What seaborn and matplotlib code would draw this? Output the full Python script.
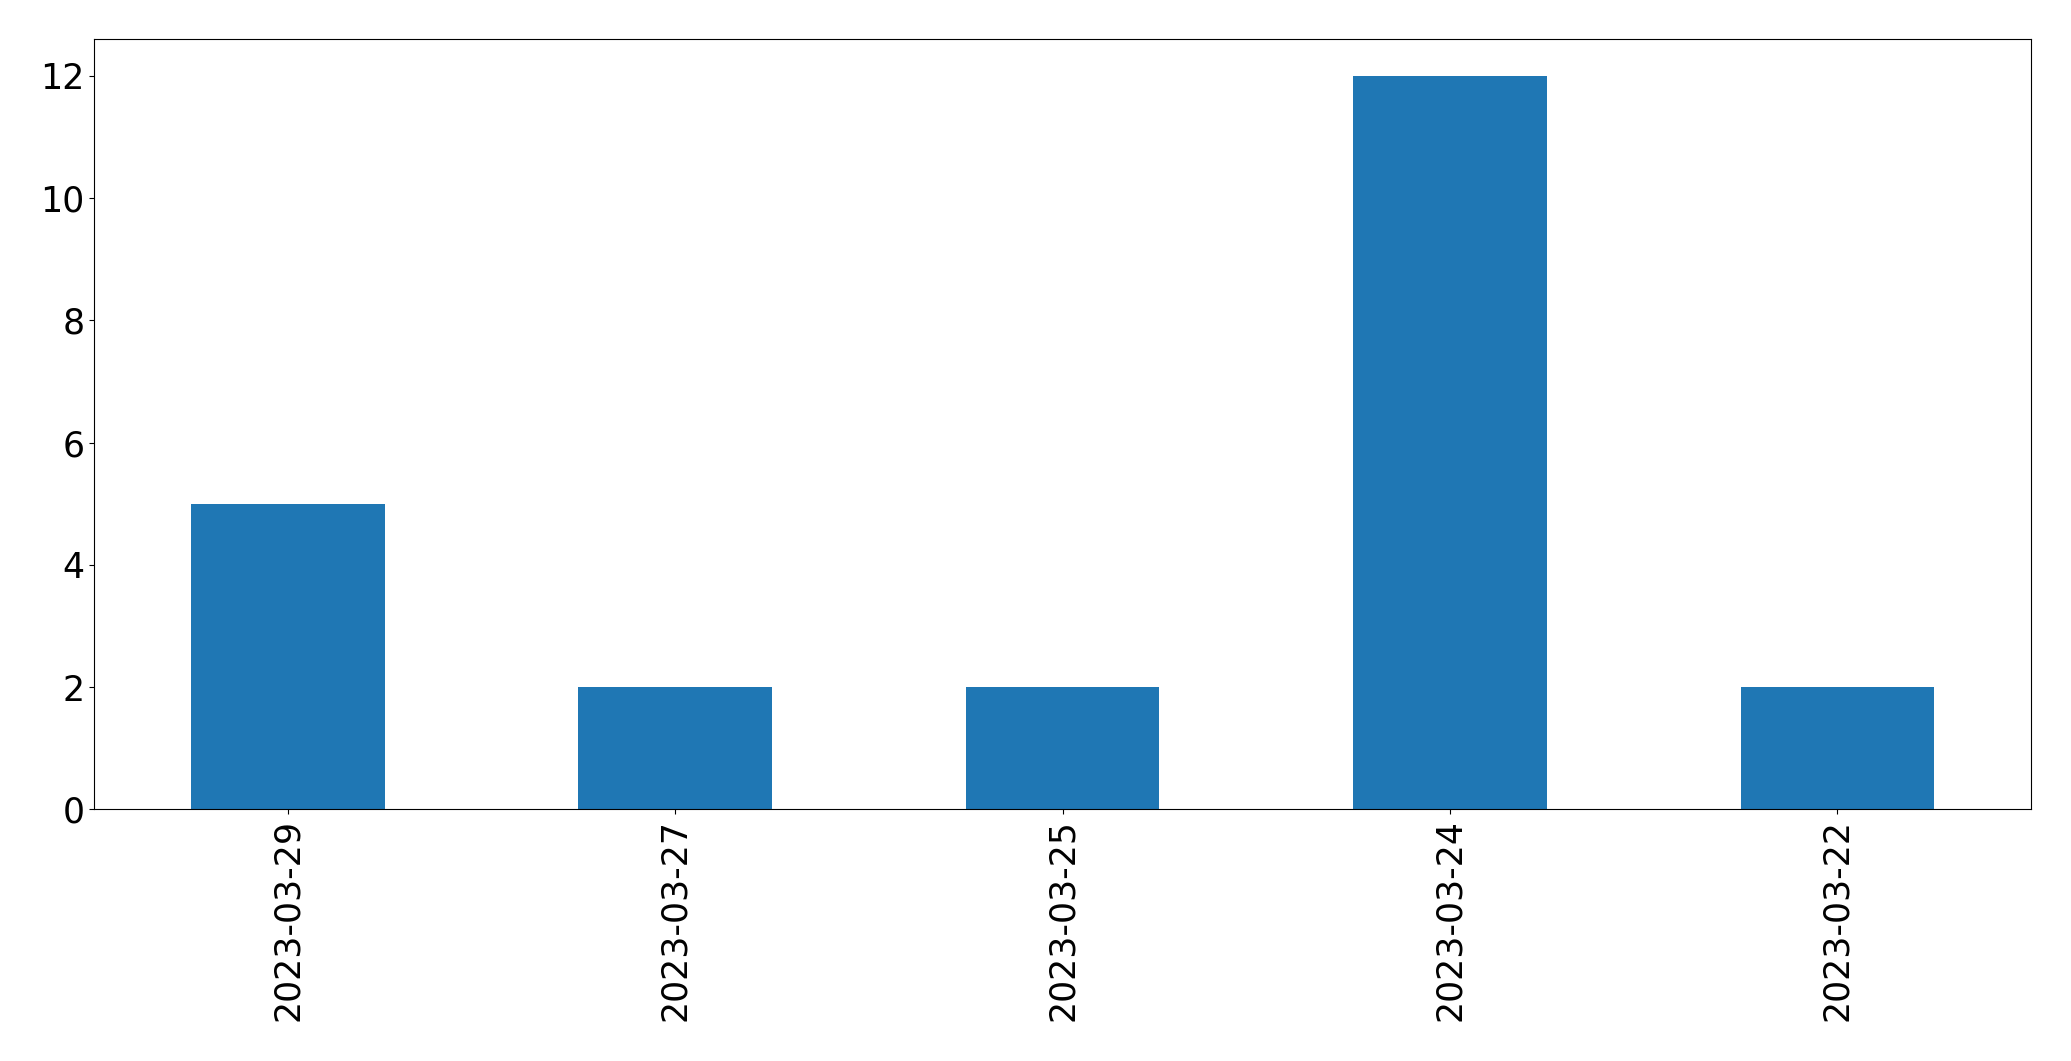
import matplotlib
matplotlib.use("Agg")
import matplotlib.pyplot as plt
import seaborn as sns
import pandas as pd

dates = ["2023-03-29", "2023-03-27", "2023-03-25", "2023-03-24", "2023-03-22"]
counts = [5, 2, 2, 12, 2]

df = pd.DataFrame({"date": dates, "count": counts})

fig, ax = plt.subplots(figsize=(20.71, 10.61), dpi=100)
sns.barplot(data=df, x="date", y="count", order=dates, color="#1f77b4",
            saturation=1, width=0.5, linewidth=0, ax=ax)
ax.set_xlim(-0.5, len(dates) - 0.5)
ax.set_ylim(0, 12.6)
ax.set_xlabel("")
ax.set_ylabel("")
ax.tick_params(axis="both", labelsize=25)
plt.setp(ax.get_xticklabels(), rotation=90)
fig.subplots_adjust(left=0.0455, right=0.9807, top=0.963, bottom=0.2372)
fig.savefig("out.png", dpi=100)
